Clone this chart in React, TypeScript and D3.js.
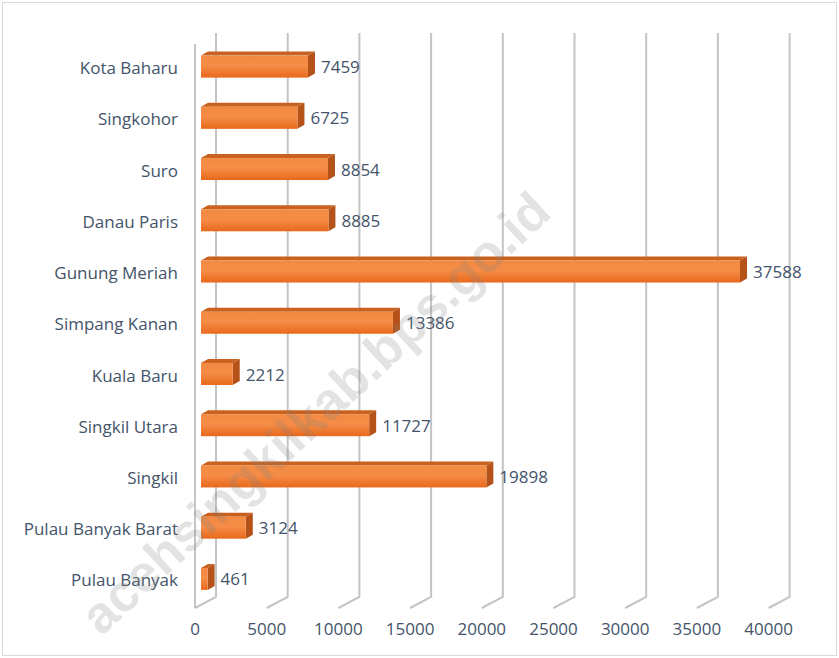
import React from "react";
import * as d3 from "d3";

const categories = [
  "Kota Baharu",
  "Singkohor",
  "Suro",
  "Danau Paris",
  "Gunung Meriah",
  "Simpang Kanan",
  "Kuala Baru ",
  "Singkil Utara",
  "Singkil",
  "Pulau Banyak Barat",
  "Pulau Banyak",
];
const values = [7459, 6725, 8854, 8885, 37588, 13386, 2212, 11727, 19898, 3124, 461];
const ticks = [0, 5000, 10000, 15000, 20000, 25000, 30000, 35000, 40000];
const watermark = "acehsingkilkab.bps.go.id";

const W = 839;
const H = 658;
const FONT = "'Open Sans', 'Noto Sans', sans-serif";
const TXT = "#44546A";

export default function App() {
  const xFront = d3.scaleLinear().domain([0, 40000]).range([195, 768.6]);
  const depthX = 21;
  const depthY = -11;
  const floorY = 608;
  const topY = 44;
  const xBar = d3.scaleLinear().domain([0, 40000]).range([201, 201 + 573.6]);
  const y = d3
    .scaleBand<string>()
    .domain(categories)
    .range([41, 604.5])
    .padding(0);
  const barH = 22;
  const bdx = 7;
  const bdy = -4;

  return (
    <svg
      width={W}
      height={H}
      style={{ position: "absolute", left: 0, top: 0, background: "#fff" }}
    >
      <defs>
        <linearGradient id="frontGrad" x1="0" y1="0" x2="0" y2="1">
          <stop offset="0" stopColor="#F38A42" />
          <stop offset="0.45" stopColor="#F58D47" />
          <stop offset="1" stopColor="#E8691C" />
        </linearGradient>
      </defs>
      <rect x={2.5} y={2.5} width={W - 5} height={H - 5} fill="#fff" stroke="#D9D9D9" strokeWidth={1} />

      <line x1={xFront(0)} x2={xFront(0)} y1={topY} y2={floorY} stroke="#C4C4C4" strokeWidth={2} />
      {ticks.map((t) => {
        const bx = xFront(t) + depthX;
        return (
          <polyline
            key={t}
            points={`${bx},${topY + depthY} ${bx},${floorY + depthY} ${xFront(t)},${floorY}`}
            fill="none"
            stroke="#C4C4C4"
            strokeWidth={2}
          />
        );
      })}

      {categories.map((c, i) => {
        const v = values[i];
        const yc = (y(c) as number) + y.bandwidth() / 2;
        const y0 = yc - barH / 2;
        const x0 = xBar(0);
        const x1 = xBar(v);
        return (
          <g key={c}>
            <polygon
              points={`${x0},${y0} ${x0 + bdx},${y0 + bdy} ${x1 + bdx},${y0 + bdy} ${x1},${y0}`}
              fill="#C9621F"
            />
            <polygon
              points={`${x1},${y0} ${x1 + bdx},${y0 + bdy} ${x1 + bdx},${y0 + barH + bdy} ${x1},${y0 + barH}`}
              fill="#B4521A"
            />
            <rect x={x0} y={y0} width={x1 - x0} height={barH} fill="url(#frontGrad)" />
            <text
              x={x1 + bdx + 6}
              y={yc + 2}
              dominantBaseline="middle"
              fontFamily={FONT}
              fontSize={17}
              fill={TXT}
            >
              {v}
            </text>
            <text
              x={178}
              y={yc + 3}
              textAnchor="end"
              dominantBaseline="middle"
              fontFamily={FONT}
              fontSize={17}
              fill={TXT}
            >
              {c}
            </text>
          </g>
        );
      })}

      {ticks.map((t) => (
        <text
          key={"l" + t}
          x={xFront(t)}
          y={630}
          textAnchor="middle"
          dominantBaseline="middle"
          fontFamily={FONT}
          fontSize={17}
          fill={TXT}
        >
          {t}
        </text>
      ))}

      <text
        x={318}
        y={416}
        transform="rotate(-43 318 416)"
        textAnchor="middle"
        dominantBaseline="middle"
        fontFamily="'Liberation Sans', Arial, sans-serif"
        fontWeight="bold"
        fontSize={52}
        fill="#7F7F7F"
        fillOpacity={0.22}
      >
        {watermark}
      </text>
    </svg>
  );
}
